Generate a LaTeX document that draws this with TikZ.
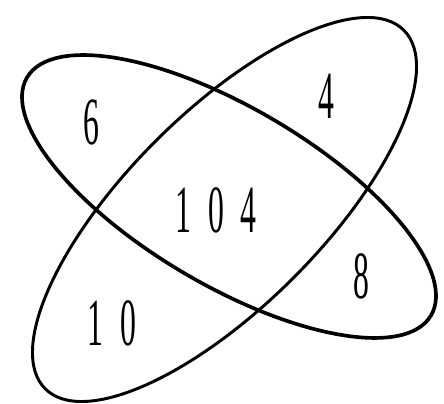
\documentclass[tikz,border=0pt]{standalone}
\usepackage{fontspec}
\newfontfamily\numfont{Liberation Serif}[WordSpace=2.1]
\begin{document}
\begin{tikzpicture}[
  scale=0.025,
  ringa/.style={draw=black, line width=2.6pt},
  ringb/.style={draw=black, line width=2.1pt},
  num/.style={font=\numfont\fontsize{48}{48}\selectfont, xscale=0.47, inner sep=0pt}
]
\useasboundingbox (0,0) rectangle (444,404);
% the two sets
\draw[ringa, shift={(229,207.5)}, rotate=-30.5] (0,0) ellipse [x radius=234.5, y radius=88.8];
\draw[ringb, shift={(224.5,194.5)}, rotate=45] (0,0) ellipse [x radius=253.6, y radius=97.1];
% counts
\node[num] (six) at (91,282) {6};
\node[num] (four) at (326,308) {4};
\node[num] (both) at (216,194) {1 0 4};
\node[num] (eight) at (361,128) {8};
\node[num] (ten) at (112,81) {1 0};
\end{tikzpicture}
\end{document}
